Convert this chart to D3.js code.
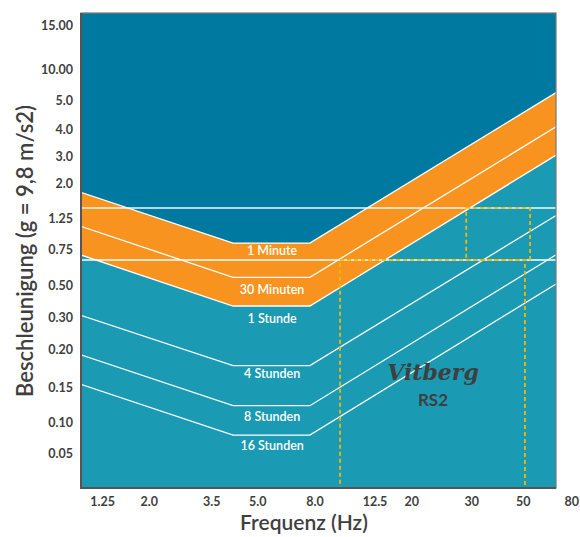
<!DOCTYPE html>
<html>
<head>
<meta charset="utf-8">
<script src="https://cdn.jsdelivr.net/npm/d3@7"></script>
<style>
  html, body { margin: 0; padding: 0; background: #fff; }
  svg { display: block; font-family: Lato, 'Open Sans', sans-serif; }
</style>
</head>
<body>
<div id="chart"></div>
<script>
(function () {
  'use strict';

  // tick labels (axis is hand-spaced, so each label keeps its own slot)
  var freqTicks = [1.25, 2.0, 3.5, 5.0, 8.0, 12.5, 20, 30, 50, 80];
  var freqTickText = ['1.25', '2.0', '3.5', '5.0', '8.0', '12.5', '20', '30', '50', '80'];
  var accelTicks = [15, 10, 5, 4, 3, 2, 1.25, 0.75, 0.5, 0.3, 0.2, 0.15, 0.1, 0.05];
  var accelTickText = ['15.00', '10.00', '5.0', '4.0', '3.0', '2.0', '1.25', '0.75', '0.50', '0.30', '0.20', '0.15', '0.10', '0.05'];

  // exposure limit curves: value at the left edge, both knees, right edge
  var bendFreqs = [1.0, 4.13, 7.67, 68.7];
  var durations = ['1 Minute', '30 Minuten', '1 Stunde', '4 Stunden', '8 Stunden', '16 Stunden'];
  var limit1Min = [1.79, 0.84, 0.84, 6.0];
  var limit30Min = [1.11, 0.55, 0.55, 4.10];
  var limit1h = [0.71, 0.36, 0.36, 3.05];
  var limit4h = [0.31, 0.177, 0.177, 1.31];
  var limit8h = [0.192, 0.1215, 0.1215, 0.71];
  var limit16h = [0.154, 0.0757, 0.0757, 0.51];

  // RS2 working range
  var rs2Levels = [1.45, 0.67];
  var rs2FreqMain = [9.64, 50.8];
  var rs2FreqPeak = [28.9, 53.4];

  var width = 580, height = 537,
  plot = { left: 81, top: 13, right: 556, bottom: 488 },
  xTickPos = [102.7, 149.3, 211.7, 257.7, 315, 375, 411.7, 471.7, 523.3, 571.7],
  yTickPos = [26, 70, 100.7, 130, 156.7, 184, 219, 250, 285.7, 317.3, 349.3, 387.7, 422.3, 454],
  labelDy = [8, 12, 13, 8.5, 11, 11],
  colDark = '#0079a1',
  colOrange = '#f7931e',
  colTeal = '#1a9bb3',
  colText = '#3f3f3f',
  colDash = '#f7b500';

  var x = d3.scaleLog().domain(freqTicks).range(xTickPos);
  var y = d3.scaleLog().domain(accelTicks).range(yTickPos);

  var limits = [limit1Min, limit30Min, limit1h, limit4h, limit8h, limit16h].map(function (vals) {
    return vals.map(function (v, i) { return { f: bendFreqs[i], a: v }; });
  });

  var svg = d3.select('#chart')
  .append('svg')
  .attr('width', width)
  .attr('height', height);

  svg.append('defs').append('clipPath')
  .attr('id', 'plot-clip')
  .append('rect')
  .attr('x', plot.left)
  .attr('y', plot.top)
  .attr('width', plot.right - plot.left)
  .attr('height', plot.bottom - plot.top);

  var g = svg.append('g').attr('clip-path', 'url(#plot-clip)');

  g.append('rect')
  .attr('x', plot.left)
  .attr('y', plot.top)
  .attr('width', plot.right - plot.left)
  .attr('height', plot.bottom - plot.top)
  .attr('fill', colDark);

  var line = d3.line()
  .x(function (d) { return x(d.f); })
  .y(function (d) { return y(d.a); });

  // orange band between 1 minute and 1 hour
  var band = limits[0].map(function (d, i) { return { f: d.f, a0: d.a, a1: limits[2][i].a }; });
  g.append('path')
  .datum(band)
  .attr('fill', colOrange)
  .attr('d', d3.area()
    .x(function (d) { return x(d.f); })
    .y0(function (d) { return y(d.a1); })
    .y1(function (d) { return y(d.a0); }));

  // teal below 1 hour
  g.append('path')
  .datum(limits[2])
  .attr('fill', colTeal)
  .attr('d', d3.area()
    .x(function (d) { return x(d.f); })
    .y0(plot.bottom + 5)
    .y1(function (d) { return y(d.a); }));

  g.selectAll('.limit')
  .data(limits)
  .enter()
  .append('path')
  .attr('class', 'limit')
  .attr('fill', 'none')
  .attr('stroke', '#fff')
  .attr('stroke-width', 1.3)
  .attr('d', line);

  g.selectAll('.level')
  .data(rs2Levels)
  .enter()
  .append('line')
  .attr('class', 'level')
  .attr('x1', plot.left)
  .attr('x2', plot.right)
  .attr('y1', function (d) { return y(d); })
  .attr('y2', function (d) { return y(d); })
  .attr('stroke', '#fff')
  .attr('stroke-opacity', function (d, i) { return i === 0 ? 0.7 : 1; })
  .attr('stroke-width', function (d, i) { return i === 0 ? 2 : 1.6; });

  // dashed RS2 boxes
  var boxes = [
    { f0: rs2FreqPeak[0], f1: rs2FreqPeak[1], top: y(rs2Levels[0]), bottom: y(rs2Levels[1]) },
    { f0: rs2FreqMain[0], f1: rs2FreqMain[1], top: y(rs2Levels[1]), bottom: plot.bottom }
  ];
  svg.selectAll('.rs2-box')
  .data(boxes)
  .enter()
  .append('rect')
  .attr('class', 'rs2-box')
  .attr('x', function (d) { return x(d.f0); })
  .attr('y', function (d) { return d.top; })
  .attr('width', function (d) { return x(d.f1) - x(d.f0); })
  .attr('height', function (d) { return d.bottom - d.top; })
  .attr('fill', 'none')
  .attr('stroke', colDash)
  .attr('stroke-width', 1.8)
  .attr('stroke-dasharray', '4,3');

  // duration labels under the flat part
  var midFreq = Math.sqrt(bendFreqs[1] * bendFreqs[2]);
  svg.selectAll('.dur-label')
  .data(limits)
  .enter()
  .append('text')
  .attr('class', 'dur-label')
  .attr('x', x(midFreq))
  .attr('y', function (d, i) { return y(d[1].a) + labelDy[i]; })
  .attr('dy', '0.35em')
  .attr('text-anchor', 'middle')
  .attr('fill', '#fff')
  .style('font-size', '12.5px')
  .style('font-weight', 600)
  .text(function (d, i) { return durations[i]; });

  // logo
  svg.append('text')
  .attr('x', 433)
  .attr('y', 380)
  .attr('text-anchor', 'middle')
  .attr('fill', colText)
  .style('font-family', "'DejaVu Serif', serif")
  .style('font-style', 'italic')
  .style('font-weight', 'bold')
  .style('font-size', '22px')
  .text('Vitberg');

  svg.append('text')
  .attr('x', 433)
  .attr('y', 406)
  .attr('text-anchor', 'middle')
  .attr('fill', colText)
  .style('font-weight', 'bold')
  .style('font-size', '17px')
  .text('RS2');

  // frame
  svg.append('rect')
  .attr('x', plot.left)
  .attr('y', plot.top)
  .attr('width', plot.right - plot.left)
  .attr('height', plot.bottom - plot.top)
  .attr('fill', 'none')
  .attr('stroke', '#777')
  .attr('stroke-width', 1.2);

  svg.append('path')
  .attr('d', 'M' + plot.left + ',' + plot.top + 'V' + plot.bottom + 'H' + plot.right)
  .attr('fill', 'none')
  .attr('stroke', '#555')
  .attr('stroke-width', 2);

  // tick labels
  svg.selectAll('.y-tick')
  .data(accelTicks)
  .enter()
  .append('text')
  .attr('class', 'y-tick')
  .attr('x', 73)
  .attr('y', function (d) { return y(d); })
  .attr('dy', '0.35em')
  .attr('text-anchor', 'end')
  .attr('fill', colText)
  .style('font-size', '12.5px')
  .style('font-weight', 'bold')
  .text(function (d, i) { return accelTickText[i]; });

  svg.selectAll('.x-tick')
  .data(freqTicks)
  .enter()
  .append('text')
  .attr('class', 'x-tick')
  .attr('x', function (d) { return x(d); })
  .attr('y', 502)
  .attr('dy', '0.35em')
  .attr('text-anchor', 'middle')
  .attr('fill', colText)
  .style('font-size', '12.5px')
  .style('font-weight', 'bold')
  .text(function (d, i) { return freqTickText[i]; });

  // axis titles
  svg.append('text')
  .attr('x', 304)
  .attr('y', 523)
  .attr('dy', '0.35em')
  .attr('text-anchor', 'middle')
  .attr('fill', colText)
  .style('font-size', '21px')
  .style('font-weight', 600)
  .text('Frequenz (Hz)');

  svg.append('text')
  .attr('transform', 'translate(25,251) rotate(-90)')
  .attr('dy', '0.35em')
  .attr('text-anchor', 'middle')
  .attr('fill', colText)
  .style('font-size', '22px')
  .style('font-weight', 600)
  .text('Beschleunigung (g = 9,8 m/s2)');
}());
</script>
</body>
</html>
